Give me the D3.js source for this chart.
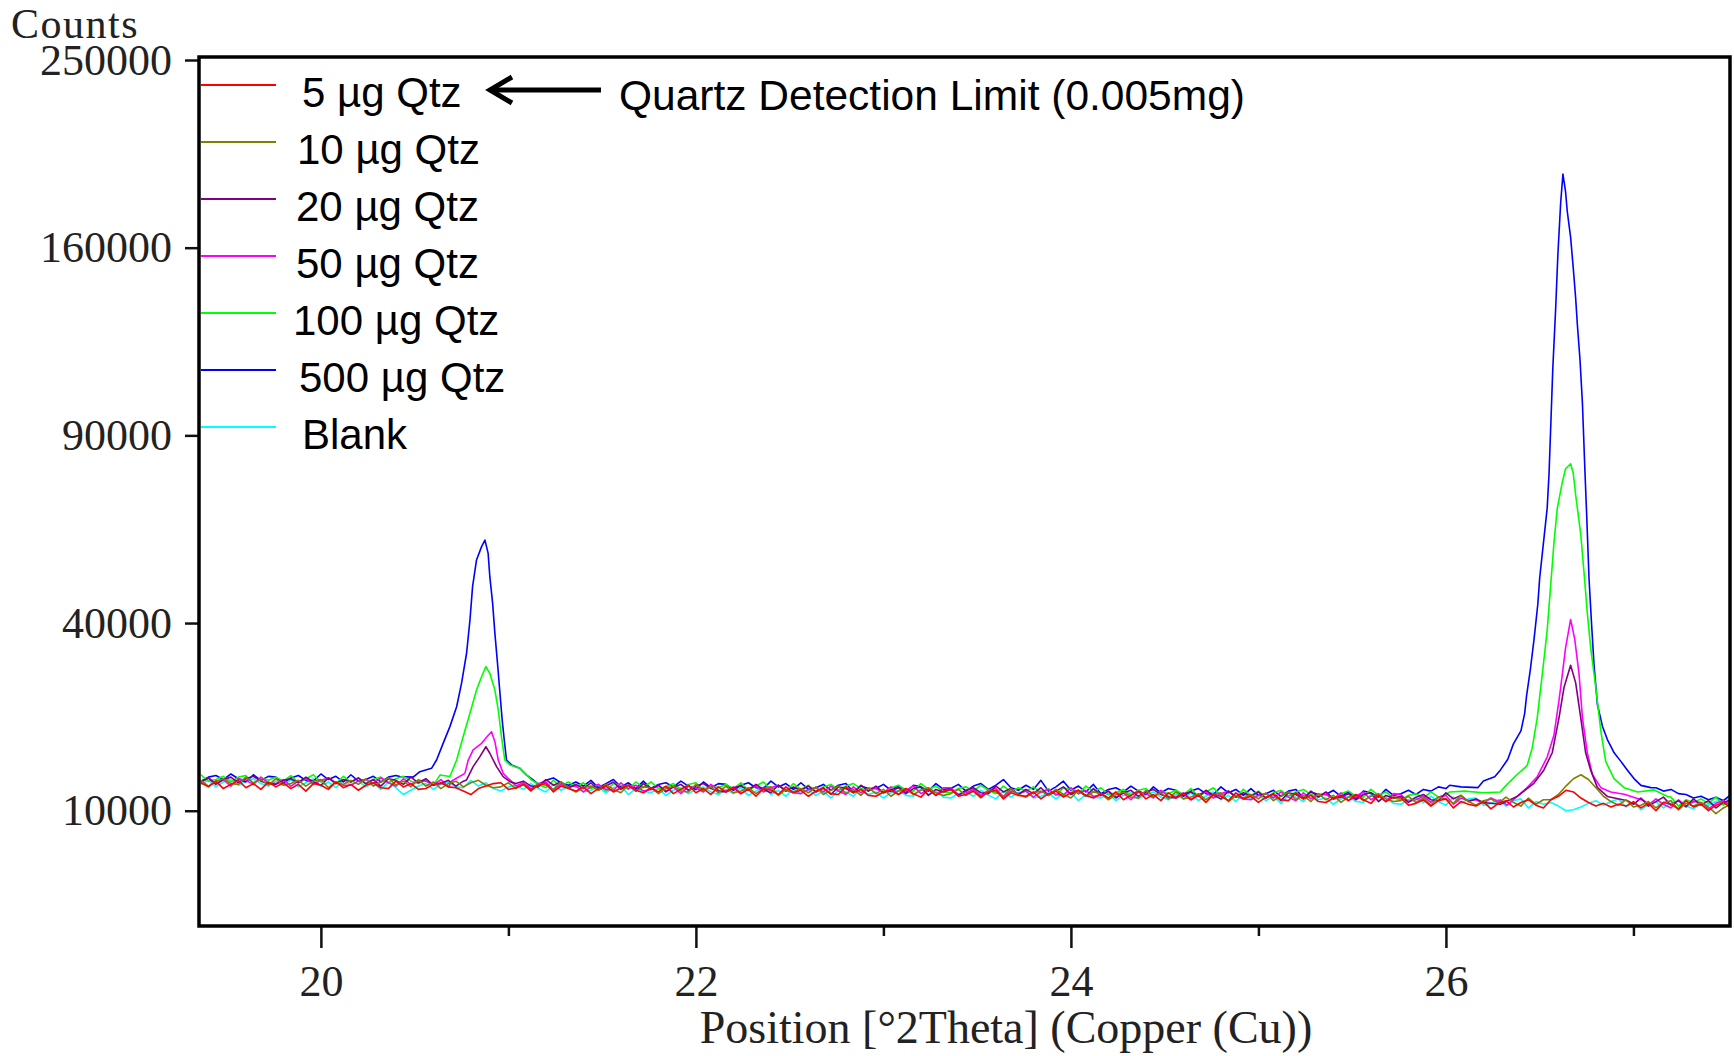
<!DOCTYPE html>
<html>
<head>
<meta charset="utf-8">
<script src="https://cdn.jsdelivr.net/npm/d3@7"></script>
<style>
  body { margin: 0; background: #fff; }
  svg { display: block; }
</style>
</head>
<body>
<svg id="chart"></svg>
<script>
// 2theta grid for the noisy baseline parts of the scans
const theta = [
  19.36,19.40,19.44,19.48,19.52,19.56,19.60,19.64,19.68,19.72,
  19.76,19.80,19.84,19.88,19.92,19.96,20.00,20.04,20.08,20.12,
  20.16,20.20,20.24,20.28,20.32,20.36,20.40,20.44,20.48,20.52,
  20.56,20.60,20.64,20.68,20.72,20.76,20.80,20.84,20.88,20.92,
  20.96,21.00,21.04,21.08,21.12,21.16,21.20,21.24,21.28,21.32,
  21.36,21.40,21.44,21.48,21.52,21.56,21.60,21.64,21.68,21.72,
  21.76,21.80,21.84,21.88,21.92,21.96,22.00,22.04,22.08,22.12,
  22.16,22.20,22.24,22.28,22.32,22.36,22.40,22.44,22.48,22.52,
  22.56,22.60,22.64,22.68,22.72,22.76,22.80,22.84,22.88,22.92,
  22.96,23.00,23.04,23.08,23.12,23.16,23.20,23.24,23.28,23.32,
  23.36,23.40,23.44,23.48,23.52,23.56,23.60,23.64,23.68,23.72,
  23.76,23.80,23.84,23.88,23.92,23.96,24.00,24.04,24.08,24.12,
  24.16,24.20,24.24,24.28,24.32,24.36,24.40,24.44,24.48,24.52,
  24.56,24.60,24.64,24.68,24.72,24.76,24.80,24.84,24.88,24.92,
  24.96,25.00,25.04,25.08,25.12,25.16,25.20,25.24,25.28,25.32,
  25.36,25.40,25.44,25.48,25.52,25.56,25.60,25.64,25.68,25.72,
  25.76,25.80,25.84,25.88,25.92,25.96,26.00,26.04,26.08,26.12,
  26.16,26.20,26.24,26.28,26.32,26.36,26.40,26.44,26.48,26.52,
  26.56,26.60,26.64,26.68,26.72,26.76,26.80,26.84,26.88,26.92,
  26.96,27.00,27.04,27.08,27.12,27.16,27.20,27.24,27.28,27.32,
  27.36,27.40,27.44,27.48,27.52
];

// counts on the grid above
const base5 = [
  13200,12700,13400,12500,13000,13500,12600,13100,12400,13300,
  12700,13200,12500,13000,12200,13100,12900,12400,13300,12600,
  13000,12300,12900,13200,12600,12500,13400,12700,13100,12400,
  12500,13000,13200,12700,12600,12200,11800,12500,12800,13100,
  13200,12400,12600,13000,12300,12900,13100,12100,12800,12500,
  12200,12700,11900,12500,12800,12100,12600,12900,12300,12000,
  12600,12100,12800,11900,12400,12900,12000,12500,11800,12700,
  12100,12600,11900,12400,11600,12500,12300,11800,12700,12000,
  12300,11600,12200,12500,11900,11800,12700,12000,12400,11700,
  11600,12100,12300,11800,12500,11900,11500,12400,11700,12200,
  12400,11600,11800,12200,11500,12100,12300,11300,12000,11700,
  11600,12100,11300,11900,12200,11500,12000,12300,11700,11400,
  11900,11400,12100,11200,11700,12200,11300,11800,11100,12000,
  11400,11900,11200,11700,10900,11800,11600,11100,12000,11300,
  11600,10900,11500,11800,11200,11100,12000,11300,11700,11000,
  10900,11400,11600,11100,11800,11200,10800,11700,11000,11500,
  11400,10600,10800,11200,10500,11100,11300,10300,11000,10700,
  10500,11000,10200,10800,11100,10400,10900,11200,10600,10300,
  11200,11600,12300,12100,11400,10900,10500,10800,10400,10700,
  10500,11000,10300,10800,10000,10900,10700,10200,11100,10400,
  10700,10000,10600,10900,10300
];
const base10 = [
  13500,12800,13400,13700,13100,13000,13900,13200,13600,12900,
  13700,12900,13100,13500,12800,13400,13600,12600,13300,13000,
  13500,13000,13700,12800,13300,13800,12900,13400,12700,13600,
  12800,13300,12500,13100,13400,12700,13200,13500,12900,12600,
  12700,13200,12500,13000,12200,13100,12900,12400,13300,12600,
  12100,12600,12800,12300,13000,12400,12000,12900,12200,12700,
  12600,11900,12500,12800,12200,12100,13000,12300,12700,12000,
  12800,12000,12200,12600,11900,12500,12700,11700,12400,12100,
  12500,12000,12700,11800,12300,12800,11900,12400,11700,12600,
  11900,12400,11600,12200,12500,11800,12300,12600,12000,11700,
  11900,12400,11700,12200,11400,12300,12100,11600,12500,11800,
  11500,12000,12200,11700,12400,11800,11400,12300,11600,12100,
  11900,11200,11800,12100,11500,11400,12300,11600,12000,11300,
  12100,11300,11500,11900,11200,11800,12000,11000,11700,11400,
  11800,11300,12000,11100,11600,12100,11200,11700,11000,11900,
  11200,11700,10900,11500,11800,11100,11600,11900,11300,11000,
  11100,11600,10900,11400,10600,11500,11300,10800,11700,11000,
  10600,11100,11300,10800,11500,10900,10500,11400,10700,11200,
  11200,11800,12800,13700,14200,13600,12600,11600,11000,10600,
  11200,10400,10600,11000,10300,10900,11100,10100,10800,10500,
  10900,10400,9700,10300,10700
];
const base20 = [
  13300,13800,13000,13600,13900,13200,13700,14000,13400,13100,
  13000,13500,13700,13200,13900,13300,12900,13800,13100,13600,
  13300,13800,13100,13600,12800,13700,13500,13000,13900,13200,
  13700,12900,13100,13500,12800,13400,13600,12600,13300,13000,
  13200,12500,13100,13400,12800,12700,13600,12900,13300,12600,
  13000,12500,13200,12300,12800,13300,12400,12900,12200,13100,
  12400,12900,12100,12700,13000,12300,12800,13100,12500,12200,
  12100,12600,12800,12300,13000,12400,12000,12900,12200,12700,
  12300,12800,12100,12600,11800,12700,12500,12000,12900,12200,
  12800,12000,12200,12600,11900,12500,12700,11700,12400,12100,
  12400,11700,12300,12600,12000,11900,12800,12100,12500,11800,
  12400,11900,12600,11700,12200,12700,11800,12300,11600,12500,
  11700,12200,11400,12000,12300,11600,12100,12400,11800,11500,
  11400,11900,12100,11600,12300,11700,11300,12200,11500,12000,
  11600,12100,11400,11900,11100,12000,11800,11300,12200,11500,
  12100,11300,11500,11900,11200,11800,12000,11000,11700,11400,
  11600,10900,11500,11800,11200,11100,12000,11300,11700,11000,
  11300,11000,10800,11200,11400,11600,11800,12200,12600,13200,
  11200,10700,11100,11400,10800,11300,11000,10600,11200,10900,
  11200,10700,11400,10500,11000,11500,10600,11100,10400,11300,
  10600,11100,10300,10900,11200
];
const base50 = [
  13300,13800,13100,13600,12800,13700,13500,13000,13900,13200,
  13100,13600,12800,13400,13700,13000,13500,13800,13200,12900,
  12900,13400,13600,13100,13800,13200,12800,13700,13000,13500,
  13400,12900,13600,12700,13200,13700,12800,13300,12600,13500,
  13400,12600,12800,13200,12500,13100,13300,12300,13000,12700,
  12800,12100,12700,13000,12400,12300,13200,12500,12900,12200,
  12400,12900,12200,12700,11900,12800,12600,12100,13000,12300,
  12200,12700,11900,12500,12800,12100,12600,12900,12300,12000,
  11900,12400,12600,12100,12800,12200,11800,12700,12000,12500,
  12500,12000,12700,11800,12300,12800,11900,12400,11700,12600,
  12600,11800,12000,12400,11700,12300,12500,11500,12200,11900,
  12200,11500,12100,12400,11800,11700,12600,11900,12300,11600,
  11700,12200,11500,12000,11200,12100,11900,11400,12300,11600,
  11500,12000,11200,11800,12100,11400,11900,12200,11600,11300,
  11200,11700,11900,11400,12100,11500,11100,12000,11300,11800,
  11800,11300,12000,11100,11600,12100,11200,11700,11000,11900,
  11800,11000,11200,11600,10900,11500,11700,10700,11400,11100,
  11200,10800,11400,11000,11100,11200,11300,11500,11800,12500,
  11100,10600,11000,11300,10800,11200,10900,10500,11100,10800,
  10400,10900,11100,10600,11300,10700,10300,11200,10500,11000,
  10900,10200,10800,11100,10500
];
const base100 = [
  14200,13400,13600,14000,13300,13900,14100,13100,13800,13500,
  13900,13400,14100,13200,13700,14200,13300,13800,13100,14000,
  13300,13800,13000,13600,13900,13200,13700,14000,13400,13100,
  13600,12900,13500,13800,13200,13100,14000,13300,13700,13000,
  12700,13200,13400,12900,13600,13000,12600,13500,12800,13300,
  12700,13200,12500,13000,12200,13100,12900,12400,13300,12600,
  13300,12500,12700,13100,12400,13000,13200,12200,12900,12600,
  13000,12500,13200,12300,12800,13300,12400,12900,12200,13100,
  12400,12900,12100,12700,13000,12300,12800,13100,12500,12200,
  12700,12000,12600,12900,12300,12200,13100,12400,12800,12100,
  12000,12500,12700,12200,12900,12300,11900,12800,12100,12600,
  12200,12700,12000,12500,11700,12600,12400,11900,12800,12100,
  12600,11800,12000,12400,11700,12300,12500,11500,12200,11900,
  12300,11800,12500,11600,12100,12600,11700,12200,11500,12400,
  11700,12200,11400,12000,12300,11600,12100,12400,11800,11500,
  12000,11300,11900,12200,11600,11500,12400,11700,12100,11400,
  11200,11700,11900,11400,12100,11500,11800,12100,12000,12100,
  12000,12100,12000,12100,12000,12100,12000,12100,12000,12100,
  12000,12100,12000,12100,12000,12100,12000,12100,12000,12100,
  11600,10800,11000,11400,10700,11300,11500,10500,11200,10900,
  11300,10800,11500,10600,11100
];
const base500 = [
  13400,13900,14100,13600,14300,13700,13300,14200,13500,14000,
  13900,13200,13800,14100,13500,13400,14300,13600,14000,13300,
  14200,13400,13600,14000,13300,13900,14100,14000,14000,14000,
  14000,14000,14000,14000,14000,14000,14000,14000,14000,14000,
  13100,13600,12800,13400,13700,13000,13500,13800,13200,12900,
  13300,12800,13500,12600,13100,13600,12700,13200,12500,13400,
  12500,13000,13200,12700,13400,12800,12400,13300,12600,13100,
  13000,12300,12900,13200,12600,12500,13400,12700,13100,12400,
  13200,12400,12600,13000,12300,12900,13100,12100,12800,12500,
  12500,13000,12300,12800,12000,12900,12700,12200,13100,12400,
  12500,13000,12200,12800,13100,12400,12900,13600,12600,12300,
  12900,12400,13500,12200,12700,13400,12300,12800,12100,13000,
  11900,12400,12600,12100,12800,12200,11800,12700,12000,12500,
  12300,11600,12200,12500,11900,11800,12700,12000,12400,11700,
  12500,11700,11900,12300,11600,12200,12400,11400,12100,11800,
  11800,12300,11600,12100,11300,12200,12000,11500,12400,11700,
  11900,12300,11800,12400,12200,12700,12500,12900,12900,12900,
  13000,13000,13000,13000,13000,13000,13000,13000,13000,13000,
  13000,13000,13000,13000,13000,13000,13000,13000,13000,13000,
  12500,12500,12500,12500,12600,12200,12400,11900,11800,11400,
  11600,11200,11500,11100,11800
];
const baseBlank = [
  13000,13500,12700,13300,13600,12900,13400,13700,13100,12800,
  13400,12900,13600,12700,13200,13700,12800,13300,12600,13500,
  12900,13400,12700,13200,12400,13300,12600,11800,12300,12800,
  13100,12400,13000,13300,12700,12600,13500,12800,13200,12500,
  12200,12700,12900,12400,13100,12500,12100,13000,12300,12800,
  12900,12100,12300,12700,12000,12600,12800,11800,12500,12200,
  12000,12500,11700,12300,12600,11900,12400,12700,12100,11800,
  12400,11900,12600,11700,12200,12700,11800,12300,11600,12500,
  11900,12400,11700,12200,11400,12300,12100,11600,12500,11800,
  12100,11400,12000,12300,11700,11600,12500,11800,12200,11500,
  11400,11900,12100,11600,12300,11700,11300,12200,11500,12000,
  12200,11400,11600,12000,11300,11900,12100,11100,11800,11500,
  11400,11900,11100,11700,12000,11300,11800,12100,11500,11200,
  11800,11300,12000,11100,11600,12100,11200,11700,11000,11900,
  11300,11800,11100,11600,10800,11700,11500,11000,11900,11200,
  11400,10700,11300,11600,11000,10900,11800,11100,11500,10800,
  10700,11200,11400,10900,11600,11000,10600,11500,10800,11300,
  11400,10600,10800,11200,10500,11100,11300,10300,11000,10700,
  10900,10500,10000,10100,10400,10800,11100,10600,11000,11300,
  10400,10900,10100,10700,11000,10300,10800,11100,10500,10200,
  10800,10600,11000,11200,11400
];

// quartz reflections, [2theta, counts]
const peak1Blue = [[20.421,13970],[20.492,13900],[20.528,14590],[20.59,15030],[20.617,16130],[20.652,18470],[20.688,20970],[20.724,24150],[20.75,28190],[20.777,33820],[20.795,40640],[20.809,48140],[20.83,54570],[20.857,57940],[20.875,59640],[20.892,56220],[20.901,50490],[20.916,44310],[20.928,37830],[20.942,31860],[20.955,26440],[20.967,21990],[20.978,18960],[20.99,16130],[21.017,15480],[21.061,15030],[21.097,14160],[21.132,13550]];
const peak1Green = [[20.635,14160],[20.688,13970],[20.724,16130],[20.759,19460],[20.795,23070],[20.83,26990],[20.857,29380],[20.88,31260],[20.901,30000],[20.928,26990],[20.946,23620],[20.963,19460],[20.981,16130],[21.008,15480],[21.061,15030],[21.115,13760]];
const peak1Magenta = [[20.70,13450],[20.768,14380],[20.786,16130],[20.812,17530],[20.857,18470],[20.887,19460],[20.91,20190],[20.928,18710],[20.946,16130],[20.972,14380],[21.008,13550]];
const peak1Purple = [[20.777,13550],[20.812,15250],[20.848,16590],[20.88,17980],[20.901,17060],[20.937,15250],[20.972,13970],[21.008,13340]];

const peak2Blue = [[26.02,12900],[26.08,12700],[26.17,12610],[26.20,13410],[26.26,13950],[26.29,14790],[26.33,16230],[26.36,18390],[26.40,20330],[26.42,23070],[26.43,25990],[26.45,30660],[26.47,36630],[26.49,44100],[26.50,50180],[26.52,58860],[26.54,68230],[26.55,78290],[26.56,94680],[26.57,112690],[26.585,134760],[26.597,156970],[26.612,179860],[26.624,192900],[26.638,184810],[26.647,175900],[26.665,164430],[26.679,151480],[26.692,139050],[26.701,128810],[26.715,115800],[26.728,100550],[26.74,80940],[26.751,65840],[26.763,50180],[26.776,40280],[26.79,31510],[26.808,24490],[26.835,21000],[26.861,19020],[26.897,17130],[26.933,15950],[26.968,14790],[27.004,13690],[27.04,12880],[27.093,12610]];
const peak2Green = [[26.02,12100],[26.10,12200],[26.20,12000],[26.29,12100],[26.31,12610],[26.344,13410],[26.38,14230],[26.433,15380],[26.46,17770],[26.487,22350],[26.514,29860],[26.54,38460],[26.558,48090],[26.576,58860],[26.594,68230],[26.621,75730],[26.638,79640],[26.665,81170],[26.679,78290],[26.692,71930],[26.719,61160],[26.737,51210],[26.754,42190],[26.772,34890],[26.799,27490],[26.826,20330],[26.852,15950],[26.897,13690],[26.951,12610],[27.022,12100],[27.111,12340],[27.182,11580]];
const peak2Magenta = [[26.29,11200],[26.326,10610],[26.38,11580],[26.433,12610],[26.487,13950],[26.54,16540],[26.576,19660],[26.603,25220],[26.621,29860],[26.638,34890],[26.665,40760],[26.687,36630],[26.71,29860],[26.728,22350],[26.754,17130],[26.781,14230],[26.826,12610],[26.879,12100],[26.951,11840],[27.058,11090]];
const peak2Purple = [[26.20,10900],[26.29,10700],[26.38,11580],[26.469,13130],[26.522,14790],[26.567,17130],[26.603,22350],[26.63,27490],[26.665,31510],[26.692,28260],[26.719,22350],[26.745,17130],[26.772,14790],[26.808,12610],[26.861,11580],[26.968,11090]];

const seriesNames = ["5 µg Qtz", "10 µg Qtz", "20 µg Qtz", "50 µg Qtz", "100 µg Qtz", "500 µg Qtz", "Blank"];
const seriesColors = ["#ff0000", "#808000", "#800080", "#ff00ff", "#00ff00", "#0000ff", "#00ffff"];
const yTicks = [10000, 40000, 90000, 160000, 250000];
const xMajor = [20, 22, 24, 26];
const xMinor = [21, 23, 25, 27];

const width = 1734, height = 1056;
const plot = { left: 199, right: 1730, top: 57, bottom: 926 };
const legendLabelX = [302, 297, 296, 296, 293, 299, 302];

const svg = d3.select("#chart").attr("width", width).attr("height", height);

const x = d3.scaleLinear().domain([19.35, 27.515]).range([plot.left, plot.right]);
const y = d3.scaleSqrt().domain([0, 250000]).range([998.4, 60]);

function merge(base, peaks) {
  let pts = theta.map((t, i) => [t, base[i]]);
  peaks.forEach((pk) => {
    const lo = pk[0][0], hi = pk[pk.length - 1][0];
    pts = pts.filter((p) => p[0] < lo || p[0] > hi).concat(pk);
  });
  return pts.sort((a, b) => a[0] - b[0]);
}

const series = [
  merge(base5, []),
  merge(base10, []),
  merge(base20, [peak1Purple, peak2Purple]),
  merge(base50, [peak1Magenta, peak2Magenta]),
  merge(base100, [peak1Green, peak2Green]),
  merge(base500, [peak1Blue, peak2Blue]),
  merge(baseBlank, []),
];

svg.append("defs").append("clipPath").attr("id", "clip")
  .append("rect")
  .attr("x", plot.left).attr("y", plot.top)
  .attr("width", plot.right - plot.left).attr("height", plot.bottom - plot.top);

const line = d3.line().x((d) => x(d[0])).y((d) => y(d[1]));

// blank at the back, 5 ug on top
const order = [6, 5, 4, 3, 2, 1, 0];
svg.append("g")
  .attr("clip-path", "url(#clip)")
  .selectAll("path")
  .data(order)
  .enter()
  .append("path")
  .attr("d", (i) => line(series[i]))
  .attr("fill", "none")
  .attr("stroke", (i) => seriesColors[i])
  .attr("stroke-width", 1.6)
  .attr("stroke-linejoin", "round");

// axes
const serif = '"Liberation Serif", "Times New Roman", serif';
const yAxis = svg.append("g")
  .attr("transform", `translate(${plot.left},0)`)
  .call(d3.axisLeft(y).tickValues(yTicks).tickSize(14).tickPadding(13).tickFormat(d3.format("d")));
yAxis.select(".domain").remove();
yAxis.selectAll(".tick line").attr("stroke", "#111").attr("stroke-width", 2.5);
yAxis.selectAll("text")
  .style("font-family", serif)
  .style("font-size", "44px")
  .attr("fill", "#222");

const xAxis = svg.append("g")
  .attr("transform", `translate(0,${plot.bottom})`)
  .call(d3.axisBottom(x).tickValues(xMajor).tickSize(22).tickPadding(17).tickFormat(d3.format("d")));
xAxis.select(".domain").remove();
xAxis.selectAll(".tick line").attr("stroke", "#111").attr("stroke-width", 2.5);
xAxis.selectAll("text")
  .style("font-family", serif)
  .style("font-size", "44px")
  .attr("fill", "#222");

const xMinorAxis = svg.append("g")
  .attr("transform", `translate(0,${plot.bottom})`)
  .call(d3.axisBottom(x).tickValues(xMinor).tickSize(10).tickFormat(""));
xMinorAxis.select(".domain").remove();
xMinorAxis.selectAll(".tick line").attr("stroke", "#111").attr("stroke-width", 2.5);

// frame
svg.append("rect")
  .attr("x", plot.left).attr("y", plot.top)
  .attr("width", plot.right - plot.left).attr("height", plot.bottom - plot.top)
  .attr("fill", "none")
  .attr("stroke", "#000")
  .attr("stroke-width", 3.5);

svg.append("text")
  .attr("x", 11).attr("y", 38)
  .style("font-family", serif)
  .style("font-size", "42px")
  .style("letter-spacing", "1.5px")
  .attr("fill", "#222")
  .text("Counts");

svg.append("text")
  .attr("x", 1006).attr("y", 1043)
  .attr("text-anchor", "middle")
  .style("font-family", serif)
  .style("font-size", "46px")
  .attr("fill", "#222")
  .text("Position [°2Theta] (Copper (Cu))");

// legend
const sans = '"Liberation Sans", Arial, sans-serif';
const legend = svg.append("g")
  .selectAll("g")
  .data(seriesNames)
  .enter()
  .append("g")
  .attr("transform", (d, i) => `translate(0,${85 + i * 57})`);

legend.append("line")
  .attr("x1", plot.left + 2).attr("x2", 276)
  .attr("y1", 0).attr("y2", 0)
  .attr("stroke", (d, i) => seriesColors[i])
  .attr("stroke-width", 2);

legend.append("text")
  .attr("x", (d, i) => legendLabelX[i]).attr("y", 22)
  .style("font-family", sans)
  .style("font-size", "42px")
  .attr("fill", "#000")
  .text((d) => d);

// detection limit note
svg.append("line")
  .attr("x1", 601).attr("x2", 492)
  .attr("y1", 90).attr("y2", 90)
  .attr("stroke", "#000")
  .attr("stroke-width", 5);
svg.append("path")
  .attr("d", "M512,77 L490,90 L512,103")
  .attr("fill", "none")
  .attr("stroke", "#000")
  .attr("stroke-width", 5);

svg.append("text")
  .attr("x", 619).attr("y", 110)
  .style("font-family", sans)
  .style("font-size", "42.5px")
  .attr("fill", "#000")
  .text("Quartz Detection Limit (0.005mg)");
</script>
</body>
</html>
